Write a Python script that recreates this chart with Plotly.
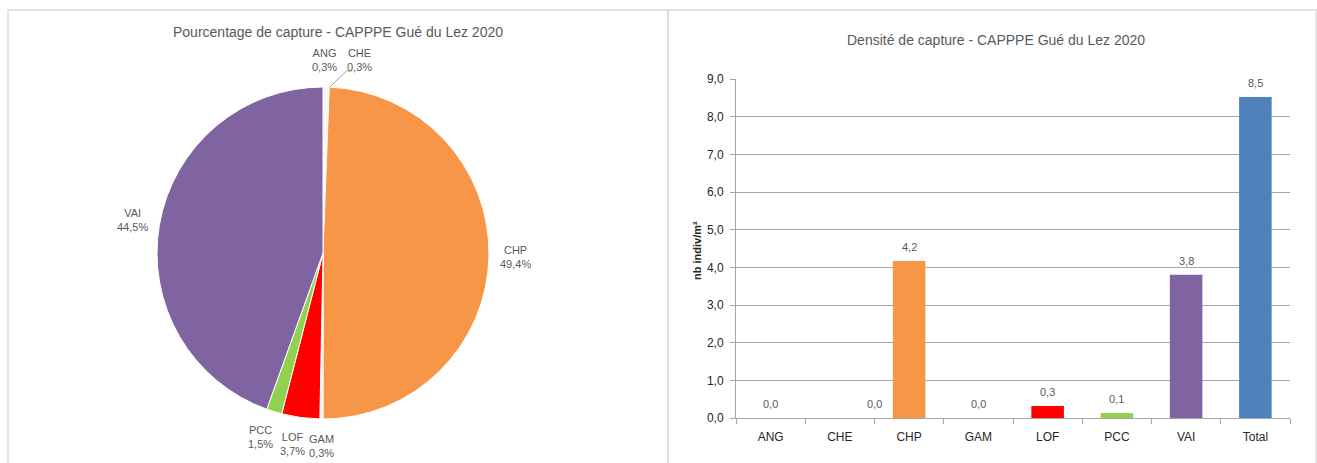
import math
import plotly.graph_objects as go

W, H = 1317, 463

# Capture shares (%) per species, and density (individuals per m²)
species = ["ANG", "CHE", "CHP", "GAM", "LOF", "PCC", "VAI"]
pct = [0.3, 0.3, 49.4, 0.3, 3.7, 1.5, 44.5]
pie_colors = ["#eef3e2", "#f4f4f4", "#f79646", "#f2f2f2", "#ff0000", "#92d050", "#8064a2"]

bar_cats = ["ANG", "CHE", "CHP", "GAM", "LOF", "PCC", "VAI", "Total"]
density = [0.0, 0.0, 4.17, 0.0, 0.32, 0.13, 3.80, 8.52]
bar_colors = ["#8db3e2", "#c0504d", "#f79646", "#4bacc6", "#ff0000", "#92d050", "#8064a2", "#4f81bd"]
y_ticks = [0, 1, 2, 3, 4, 5, 6, 7, 8, 9]

FONT = "Liberation Sans"
LABEL_GREY = "#595959"


def px(x):
    return x / W


def py(y):
    return 1 - y / H


# pie geometry (pixels)
cx, cy, R = 323, 253, 166

fig = go.Figure()

fig.add_trace(go.Pie(
    labels=species, values=pct, sort=False, direction="clockwise", rotation=0,
    marker=dict(colors=pie_colors, line=dict(color="white", width=1)),
    textinfo="none", hoverinfo="label+percent", showlegend=False,
    domain=dict(x=[px(cx - R), px(cx + R)], y=[py(cy + R), py(cy - R)]),
))

fig.add_trace(go.Bar(
    x=bar_cats, y=density, marker=dict(color=bar_colors, line=dict(width=0)),
    width=0.47, showlegend=False, xaxis="x", yaxis="y",
))

annotations = []
shapes = []

# pie labels placed radially at the middle of each slice (small nudges to avoid overlap)
label_shift = {"CHE": 31, "LOF": -5, "PCC": -6}
total = sum(pct)
start = 0.0
for name, v in zip(species, pct):
    mid = (start + v / 2) / total * 2 * math.pi
    start += v
    d = 193
    lx = cx + d * math.sin(mid)
    ly = cy - d * math.cos(mid)
    dx = label_shift.get(name, 0)
    annotations.append(dict(
        x=px(lx + dx), y=py(ly), xref="paper", yref="paper",
        xanchor="center", yanchor="middle",
        text=f"{name}<br>{v:.1f}%".replace(".", ","), showarrow=False,
        font=dict(family=FONT, size=11, color=LABEL_GREY), align="center",
    ))
    if name == "CHE":
        ex = cx + R * math.sin(mid) + 2
        ey = cy - R * math.cos(mid)
        shapes.append(dict(
            type="path", xref="paper", yref="paper",
            path=f"M {px(ex)},{py(ey)} L {px(lx + dx - 13)},{py(ly + 11)} L {px(lx + dx - 7)},{py(ly + 11)}",
            line=dict(color="#a6a6a6", width=1),
        ))

# value labels above bars
for c, v in zip(bar_cats, density):
    annotations.append(dict(
        x=c, y=v, xref="x", yref="y", text=f"{v:.1f}".replace(".", ","),
        showarrow=False, xanchor="center", yanchor="bottom", yshift=6,
        xshift=35 if c == "CHE" else 0,
        font=dict(family=FONT, size=11, color=LABEL_GREY),
    ))

# titles
annotations.append(dict(
    x=px(338), y=py(32), xref="paper", yref="paper", showarrow=False,
    xanchor="center", yanchor="middle",
    text="Pourcentage de capture - CAPPPE Gué du Lez 2020",
    font=dict(family=FONT, size=14, color=LABEL_GREY),
))
annotations.append(dict(
    x=px(996), y=py(40), xref="paper", yref="paper", showarrow=False,
    xanchor="center", yanchor="middle",
    text="Densité de capture - CAPPPE Gué du Lez 2020",
    font=dict(family=FONT, size=14, color=LABEL_GREY),
))
annotations.append(dict(
    x=px(697), y=py(250), xref="paper", yref="paper", showarrow=False,
    xanchor="center", yanchor="middle",
    text="<b>nb indiv/m²</b>", textangle=-90,
    font=dict(family=FONT, size=11, color="#262626"),
))

# chart frames
shapes.append(dict(type="rect", xref="paper", yref="paper",
                   x0=px(8), x1=px(668), y0=-0.1, y1=py(10),
                   line=dict(color="#d9d9d9", width=1.3), layer="below"))
shapes.append(dict(type="rect", xref="paper", yref="paper",
                   x0=px(668), x1=px(1316), y0=-0.1, y1=py(10),
                   line=dict(color="#d9d9d9", width=1.3), layer="below"))

fig.update_layout(
    template="none",
    width=W, height=H,
    margin=dict(l=0, r=0, t=0, b=0, pad=0, autoexpand=False),
    paper_bgcolor="white", plot_bgcolor="white",
    separators=", ",
    font=dict(family=FONT, color="#404040"),
    xaxis=dict(
        domain=[px(736), px(1290)], anchor="y", range=[-0.5, 7.5],
        automargin=False,
        showline=True, linecolor="#a6a6a6", linewidth=1,
        ticks="outside", tickson="boundaries", ticklen=5, tickcolor="#a6a6a6",
        ticklabelstandoff=8,
        tickfont=dict(family=FONT, size=12, color="#262626"),
        showgrid=False, fixedrange=True,
    ),
    yaxis=dict(
        domain=[py(418), py(79)], anchor="x", range=[0, 9],
        automargin=False,
        tickvals=y_ticks, tickformat=".1f",
        showline=True, linecolor="#a6a6a6", linewidth=1,
        ticks="outside", ticklen=5, tickcolor="#a6a6a6",
        ticklabelstandoff=4,
        showgrid=True, gridcolor="#a6a6a6", gridwidth=1,
        zeroline=False,
        tickfont=dict(family=FONT, size=12, color="#262626"),
        fixedrange=True,
    ),
    annotations=annotations,
    shapes=shapes,
)

fig.write_html(
    "out.html",
    config={"displayModeBar": False},
    post_script="document.body.style.margin='0';document.body.style.overflow='hidden';",
)
